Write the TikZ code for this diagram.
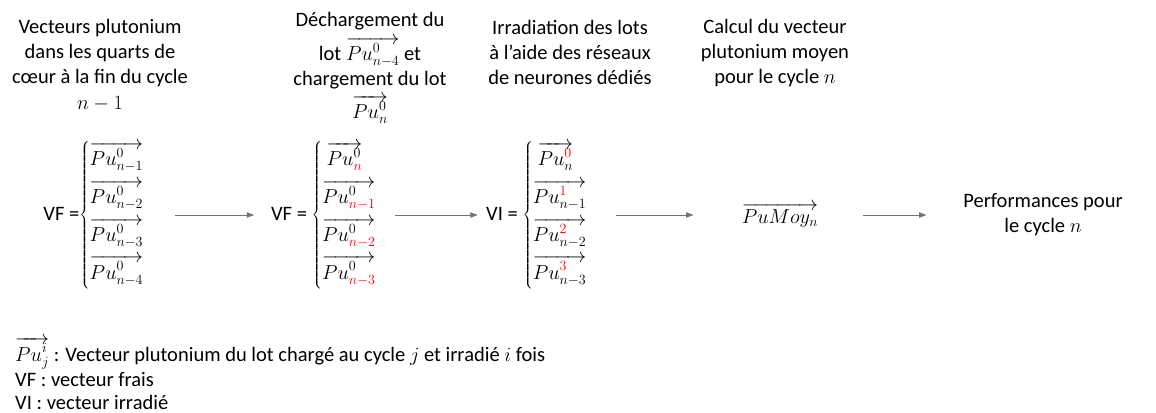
\documentclass[tikz,border=0pt]{standalone}
\usepackage{fontspec}
\setmainfont{Carlito}
\usetikzlibrary{arrows.meta}
\newcommand{\puvec}[2]{\overrightarrow{Pu^{#1}_{#2}}}
\newcommand{\redpart}[1]{{\color{red}#1}}

\begin{document}
\begin{tikzpicture}[
  x=0.03cm, y=-0.03cm,
  font=\fontsize{17.5}{21.5}\selectfont,
  steptext/.style={align=center, inner sep=0pt, anchor=north},
  vecset/.style={inner sep=0pt},
  flow/.style={-{Triangle[length=2.2mm,width=1.6mm]}, black!55, line width=0.6pt},
  legend/.style={anchor=west, inner sep=0pt},
]
\useasboundingbox (0,0) rectangle (1156,412);

% titres des etapes
\node[steptext] (t-fin) at (100,19) {Vecteurs plutonium\\dans les quarts de\\cœur à la fin du cycle\\$n-1$};
\node[steptext] (t-dech) at (370,12) {Déchargement du\\[5pt]lot $\puvec{0}{n-4}$ et\\chargement du lot\\[4pt]$\puvec{0}{n}$};
\node[steptext] (t-irr) at (570,20) {Irradiation des lots\\à l’aide des réseaux\\de neurones dédiés};
\node[steptext] (t-moy) at (775,19) {Calcul du vecteur\\plutonium moyen\\pour le cycle $n$};

% vecteurs
\renewcommand{\arraystretch}{1.5}
\node[vecset] (vf-a) at (94,215) {VF =$\left\{\begin{array}{@{}l@{}}
  \puvec{0}{n-1}\\ \puvec{0}{n-2}\\ \puvec{0}{n-3}\\ \puvec{0}{n-4}
  \end{array}\right.$};
\node[vecset] (vf-b) at (324,215) {VF = $\left\{\begin{array}{@{}l@{}}
  \ \overrightarrow{Pu^{0}_{\redpart{n}}}\\ \overrightarrow{Pu^{0}_{\redpart{n-1}}}\\
  \overrightarrow{Pu^{0}_{\redpart{n-2}}}\\ \overrightarrow{Pu^{0}_{\redpart{n-3}}}
  \end{array}\right.$};
\node[vecset] (vi-c) at (537,215) {VI = $\left\{\begin{array}{@{}l@{}}
  \ \overrightarrow{Pu^{\redpart{0}}_{n}}\\ \overrightarrow{Pu^{\redpart{1}}_{n-1}}\\
  \overrightarrow{Pu^{\redpart{2}}_{n-2}}\\ \overrightarrow{Pu^{\redpart{3}}_{n-3}}
  \end{array}\right.$};
\node[vecset] (moy) at (780,215) {$\overrightarrow{PuMoy_{n}}$};
\node[steptext, anchor=center] (perf) at (1043,215) {Performances pour\\le cycle $n$};

\draw[flow] ([xshift=0.9cm]vf-a.east) -- ([xshift=-0.5cm]vf-b.west);
\draw[flow] ([xshift=0.55cm]vf-b.east) -- ([xshift=-0.25cm]vi-c.west);
\draw[flow] ([xshift=0.85cm]vi-c.east) -- ([xshift=-1.45cm]moy.west);
\draw[flow] ([xshift=1.35cm]moy.east) -- ([xshift=-1.1cm]perf.west);

% legende
\node[legend] (leg-pu) at (15,353) {$\puvec{i}{j}$ : Vecteur plutonium du lot chargé au cycle $j$ et irradié $i$ fois};
\node[legend] (leg-vf) at (15,380) {VF : vecteur frais};
\node[legend] (leg-vi) at (15,402) {VI : vecteur irradié};

\end{tikzpicture}
\end{document}
